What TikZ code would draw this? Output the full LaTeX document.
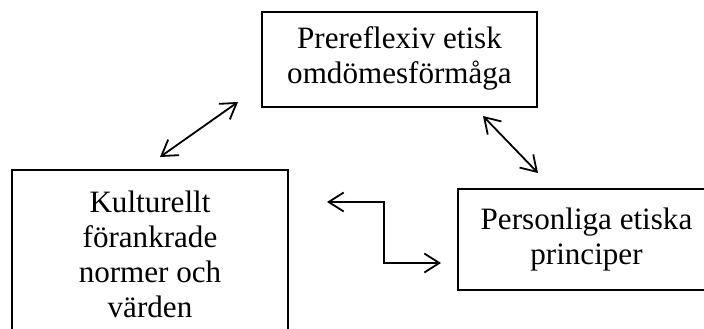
\documentclass[tikz,border=0pt]{standalone}
\usepackage{fontspec}
\setmainfont{Liberation Serif}
\usetikzlibrary{arrows.meta}
\begin{document}
\begin{tikzpicture}[x=1pt,y=-1pt,
  box/.style={draw, line width=1.3pt, rectangle},
  label/.style={align=center, font=\fontsize{31.1}{35}\selectfont, inner sep=0pt},
  link/.style={line width=1.8pt, {Straight Barb[length=15pt,width=19pt,line width=1.8pt]}-{Straight Barb[length=15pt,width=19pt,line width=1.8pt]}}]
  \useasboundingbox (0,0) rectangle (704,329);
  \clip (0,0) rectangle (704,329);

  % boxes
  \draw[box] (262,12) rectangle (537,107);
  \draw[box] (12,170) rectangle (288,347);
  \draw[box] (458,189) rectangle (716,290);

  % texts (anchored at the baseline of the last line)
  \node[label, anchor=base] (top) at (399.5,83) {Prereflexiv etisk\\omdömesförmåga};
  \node[label, anchor=base] (left) at (150,317) {Kulturellt\\förankrade\\normer och\\värden};
  \node[label, anchor=base] (right) at (586.5,264) {Personliga etiska\\principer};

  % connector ends
  \coordinate (a1) at (160,157);
  \coordinate (a2) at (238,102);
  \coordinate (b1) at (483,116);
  \coordinate (b2) at (538,173);
  \coordinate (c1) at (327,202);
  \coordinate (c2) at (441,263);

  \draw[link] (a1) -- (a2);
  \draw[link] (b1) -- (b2);
  \draw[link] (c1) -- (384,202) -- (384,263) -- (c2);
\end{tikzpicture}
\end{document}
